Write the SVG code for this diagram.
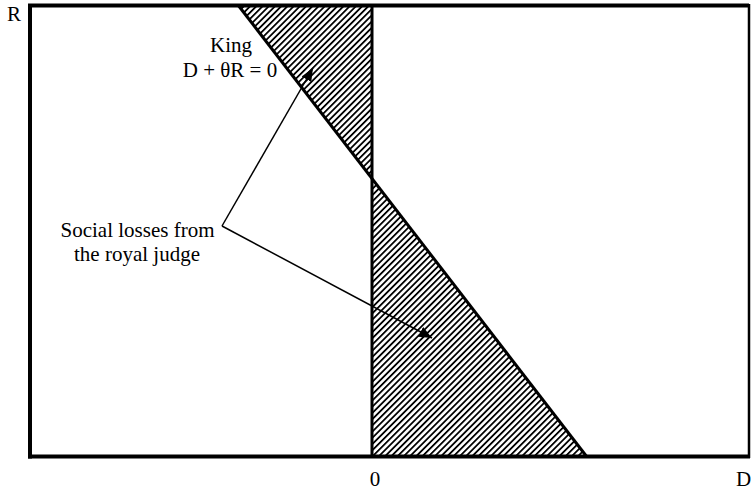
<svg xmlns="http://www.w3.org/2000/svg" width="752" height="492" viewBox="0 0 752 492">
  <defs>
    <pattern id="hatch" patternUnits="userSpaceOnUse" width="4.4" height="10" patternTransform="rotate(45)">
      <rect x="0" y="0" width="1.8" height="10" fill="#000"/>
    </pattern>
    <marker id="arrow" viewBox="0 0 13 11" refX="13" refY="5.5" markerWidth="13" markerHeight="11" markerUnits="userSpaceOnUse" orient="auto">
      <path d="M0,0 L13,5.5 L0,11 Z" fill="#000"/>
    </marker>
  </defs>
  <style>
    text { font-family: "Liberation Serif", "Times New Roman", serif; font-size: 21px; fill: #000; }
    .axis { stroke: #000; fill: none; }
    .conn { stroke: #000; stroke-width: 1.5; fill: none; }
  </style>
  <rect x="0" y="0" width="752" height="492" fill="#fff"/>

  <g id="hatched-regions">
    <polygon points="238,6 372,6 372,180" fill="url(#hatch)"/>
    <polygon points="372,180 372,457 587,457" fill="url(#hatch)"/>
  </g>

  <g id="frame">
    <line class="axis" x1="28" y1="5.5" x2="749" y2="5.5" stroke-width="4"/>
    <line class="axis" x1="30" y1="4" x2="30" y2="458.5" stroke-width="4"/>
    <line class="axis" x1="28" y1="456.5" x2="750" y2="456.5" stroke-width="4"/>
    <line class="axis" x1="749" y1="4" x2="749" y2="458" stroke-width="2.5"/>
  </g>

  <g id="zero-line">
    <line class="axis" x1="372" y1="5" x2="372" y2="457" stroke-width="3"/>
  </g>

  <g id="king-line">
    <line class="axis" x1="238" y1="5" x2="587" y2="457" stroke-width="3"/>
  </g>

  <g id="label-king">
    <text x="231" y="52" text-anchor="middle">King</text>
    <text x="230" y="77" text-anchor="middle">D + θR = 0</text>
  </g>

  <g id="label-social-losses">
    <text x="137.5" y="237" text-anchor="middle">Social losses from</text>
    <text x="137" y="261" text-anchor="middle">the royal judge</text>
  </g>

  <g id="axis-labels">
    <text x="7" y="21">R</text>
    <text x="375" y="486" text-anchor="middle">0</text>
    <text x="736" y="486">D</text>
  </g>

  <g id="connectors">
    <line class="conn" x1="222" y1="226" x2="313" y2="68" marker-end="url(#arrow)"/>
    <line class="conn" x1="222" y1="226" x2="432" y2="338" marker-end="url(#arrow)"/>
  </g>
</svg>
